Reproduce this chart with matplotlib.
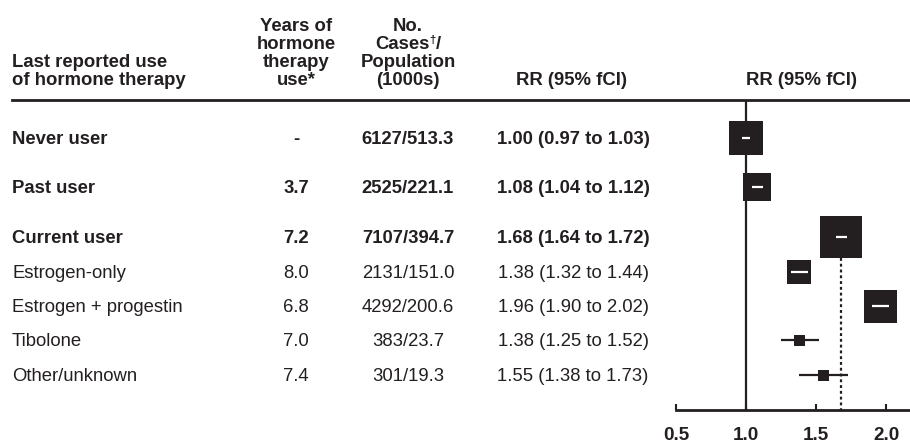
import matplotlib
matplotlib.use("Agg")
import matplotlib.pyplot as plt

plt.rcParams["font.family"] = ["Liberation Sans", "DejaVu Sans"]

INK = "#231f20"
FS = 13.3

# data
groups = ["Never user", "Past user", "Current user", "Estrogen-only",
          "Estrogen + progestin", "Tibolone", "Other/unknown"]
is_bold = [True, True, True, False, False, False, False]
years_use = ["-", "3.7", "7.2", "8.0", "6.8", "7.0", "7.4"]
cases = [6127, 2525, 7107, 2131, 4292, 383, 301]
population_k = [513.3, 221.1, 394.7, 151.0, 200.6, 23.7, 19.3]
rr = [1.00, 1.08, 1.68, 1.38, 1.96, 1.38, 1.55]
ci_low = [0.97, 1.04, 1.64, 1.32, 1.90, 1.25, 1.38]
ci_high = [1.03, 1.12, 1.72, 1.44, 2.02, 1.52, 1.73]
current_rr = 1.68
xticks = [0.5, 1.0, 1.5, 2.0]

# layout (pixel units, figure is 910 x 445)
row_y = [138, 187, 237, 272, 306, 340, 375]
box_px = [34, 28, 42, 24, 33, 11, 11]
line_top, axis_y = 100, 410
px_per_unit = 140
x_left = 676

fig = plt.figure(figsize=(9.1, 4.45), dpi=100)

tax = fig.add_axes([0, 0, 1, 1])
tax.set_xlim(0, 910)
tax.set_ylim(445, 0)
tax.axis("off")

# header
hb = 85
sp = 18
hdr = dict(fontsize=FS, fontweight="bold", color=INK, va="baseline")
tax.text(12, hb - sp, "Last reported use", ha="left", **hdr)
tax.text(12, hb, "of hormone therapy", ha="left", **hdr)
for i, s in enumerate(["Years of", "hormone", "therapy", "use*"]):
    tax.text(296, hb - (3 - i) * sp, s, ha="center", **hdr)
for i, s in enumerate(["No.", None, "Population", "(1000s)"]):
    if s:
        tax.text(408, hb - (3 - i) * sp, s, ha="center", **hdr)

# "Cases†/" line, built from pieces so the dagger sits small and raised
renderer = fig.canvas.get_renderer()
yc = hb - 2 * sp
pieces = [tax.text(0, yc, "Cases", ha="left", **hdr),
          tax.text(0, yc - 6, "\u2020", ha="left", fontsize=8,
                   fontweight="bold", color=INK, va="baseline"),
          tax.text(0, yc, "/", ha="left", **hdr)]
widths = [p.get_window_extent(renderer).width for p in pieces]
x = 408 - sum(widths) / 2
for p, w in zip(pieces, widths):
    p.set_x(x)
    x += w

tax.text(571, hb, "RR (95% fCI)", ha="center", **hdr)
tax.text(801, hb, "RR (95% fCI)", ha="center", **hdr)
tax.plot([12, 910], [line_top, line_top], color=INK, lw=2)

# table rows
for i, g in enumerate(groups):
    w = "bold" if is_bold[i] else "normal"
    kw = dict(fontsize=FS, fontweight=w, color=INK, va="baseline")
    y = row_y[i] + 6
    tax.text(12, y, g, ha="left", **kw)
    tax.text(296, y, years_use[i], ha="center", **kw)
    tax.text(408, y, f"{cases[i]}/{population_k[i]:.1f}", ha="center", **kw)
    tax.text(573, y, f"{rr[i]:.2f} ({ci_low[i]:.2f} to {ci_high[i]:.2f})",
             ha="center", **kw)

# forest plot
x_right = 0.5 + (910 - x_left) / px_per_unit
fax = fig.add_axes([x_left / 910, (445 - axis_y) / 445,
                    (910 - x_left) / 910, (axis_y - line_top) / 445])
fax.set_xlim(0.5, x_right)
fax.set_ylim(axis_y, line_top)
fax.patch.set_alpha(0)
for s in ["top", "left", "right"]:
    fax.spines[s].set_visible(False)
fax.spines["bottom"].set_linewidth(2)
fax.spines["bottom"].set_color(INK)
fax.set_yticks([])
fax.set_xticks(xticks)
fax.set_xticklabels([f"{t:.1f}" for t in xticks], fontsize=FS + 0.3,
                    fontweight="bold", color=INK)
fax.tick_params(axis="x", direction="in", length=4, width=1.5, pad=12.5,
                colors=INK)

fax.vlines(1.0, line_top, axis_y, color=INK, lw=1.6, zorder=1)
fax.vlines(current_rr, row_y[2] + box_px[2] / 2, axis_y, color=INK, lw=1.6,
           linestyles=(0, (1.3, 1.3)), zorder=1)

for i in range(len(groups)):
    half_ci = (ci_high[i] - ci_low[i]) * px_per_unit / 2
    inside = half_ci < box_px[i] / 2
    fax.plot(rr[i], row_y[i], "s", ms=box_px[i] * 0.72, color=INK,
             mew=0, zorder=2)
    fax.hlines(row_y[i], ci_low[i], ci_high[i],
               color="white" if inside else INK, lw=1.6,
               zorder=3 if inside else 1)

fig.savefig("out.png", dpi=100)
